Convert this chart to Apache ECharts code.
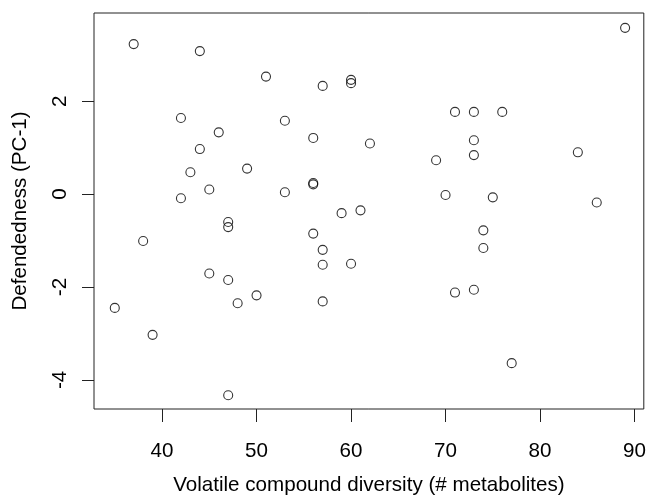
<!DOCTYPE html>
<html>
<head>
<meta charset="utf-8">
<script src="https://cdn.jsdelivr.net/npm/echarts@6/dist/echarts.min.js"></script>
<style>
  html, body { margin: 0; padding: 0; background: #fff; }
  #main { width: 649px; height: 501px; }
</style>
</head>
<body>
<div id="main"></div>
<script>
// volatile compound diversity (# metabolites)
var diversity = [37, 44, 51, 57, 60, 60, 42, 53, 46, 56, 62, 44, 43, 49, 45, 42, 53, 56, 56, 59, 61,
  89, 71, 73, 76, 73, 73, 69, 84, 70, 75, 86,
  47, 47, 38, 56, 57, 57, 60, 45, 47, 50, 48, 57, 35, 39, 47,
  74, 74, 71, 73, 77];
// defendedness (PC-1)
var defendedness = [3.23, 3.08, 2.53, 2.33, 2.46, 2.39, 1.64, 1.58, 1.33, 1.21, 1.09, 0.97, 0.47, 0.55, 0.10, -0.09, 0.04, 0.24, 0.21, -0.41, -0.35,
  3.58, 1.77, 1.77, 1.77, 1.16, 0.84, 0.73, 0.90, -0.02, -0.07, -0.18,
  -0.60, -0.71, -1.01, -0.85, -1.20, -1.52, -1.50, -1.71, -1.85, -2.18, -2.35, -2.31, -2.45, -3.03, -4.33,
  -0.78, -1.16, -2.12, -2.06, -3.64];

var xTicks = [40, 50, 60, 70, 80, 90];
var yTicks = [-4, -2, 0, 2];

var font = 'Liberation Sans';
var fontSize = 20.6;

var points = diversity.map(function (x, i) {
  return [x, defendedness[i]];
});

var myChart = echarts.init(document.getElementById('main'));

myChart.setOption({
  animation: false,
  backgroundColor: '#fff',
  grid: {
    left: 94, right: 3, top: 13, bottom: 88,
    show: true,
    borderColor: '#222',
    borderWidth: 1,
    backgroundColor: 'transparent'
  },
  xAxis: {
    type: 'value',
    min: 32.8,
    max: 90.98,
    name: 'Volatile compound diversity (# metabolites)',
    nameLocation: 'middle',
    nameGap: 66,
    nameTextStyle: { fontFamily: font, fontSize: fontSize, color: '#000' },
    // ticks sit on the box edge, not on y = 0
    axisLine: { show: false, onZero: false },
    splitLine: { show: false },
    axisTick: {
      show: true, length: 13, customValues: xTicks,
      lineStyle: { color: '#222', width: 1 }
    },
    axisLabel: {
      customValues: xTicks, margin: 32,
      fontFamily: font, fontSize: fontSize, color: '#000'
    }
  },
  yAxis: {
    type: 'value',
    min: -4.627,
    max: 3.90,
    name: 'Defendedness (PC-1)',
    nameLocation: 'middle',
    nameRotate: 90,
    nameGap: 63,
    nameTextStyle: { fontFamily: font, fontSize: fontSize, color: '#000' },
    axisLine: { show: false, onZero: false },
    splitLine: { show: false },
    axisTick: {
      show: true, length: 12, customValues: yTicks,
      lineStyle: { color: '#222', width: 1 }
    },
    axisLabel: {
      customValues: yTicks, margin: 23, rotate: 90,
      fontFamily: font, fontSize: fontSize, color: '#000'
    }
  },
  series: [
    {
      type: 'scatter',
      data: points,
      symbol: 'circle',
      symbolSize: 9,
      itemStyle: {
        color: 'rgba(0,0,0,0)',
        borderColor: '#000',
        borderWidth: 1.1
      }
    }
  ]
});
</script>
</body>
</html>
